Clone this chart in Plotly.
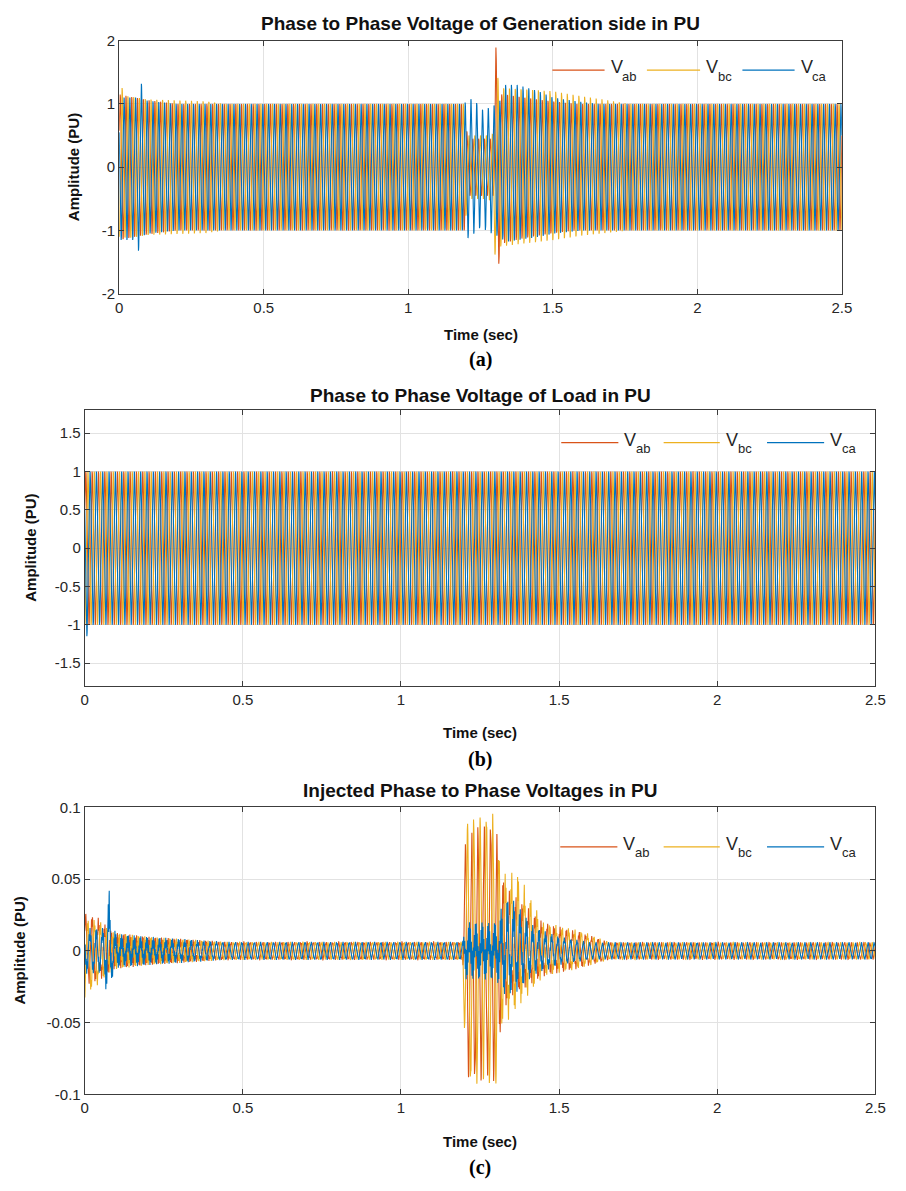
import numpy as np
import plotly.graph_objects as go

# ======================= data =======================
TIME_END = 2.5            # s
SAMPLE_STEP = 0.00025     # s
FREQ = 50                 # Hz, fundamental
RIPPLE_FREQ = 330         # Hz, distortion visible in the injected voltages

SERIES_SYMBOL = ["V", "V", "V"]
SERIES_SUB = ["ab", "bc", "ca"]
SERIES_PHASE_DEG = [30, -90, 150]
SERIES_COLORS = ["#D95319", "#EDB120", "#0072BD"]

X_TICKS = [0, 0.5, 1, 1.5, 2, 2.5]
X_TICK_TEXT = ["0", "0.5", "1", "1.5", "2", "2.5"]
A_Y_TICKS = [-2, -1, 0, 1, 2]
A_Y_TICK_TEXT = ["-2", "-1", "0", "1", "2"]
B_Y_TICKS = [-1.5, -1, -0.5, 0, 0.5, 1, 1.5]
B_Y_TICK_TEXT = ["-1.5", "-1", "-0.5", "0", "0.5", "1", "1.5"]
C_Y_TICKS = [-0.1, -0.05, 0, 0.05, 0.1]
C_Y_TICK_TEXT = ["-0.1", "-0.05", "0", "0.05", "0.1"]

TITLES = ["Phase to Phase Voltage of Generation side in PU",
          "Phase to Phase Voltage of Load in PU",
          "Injected Phase to Phase Voltages in PU"]
PANEL_TAGS = ["(a)", "(b)", "(c)"]
X_LABEL = "Time (sec)"
Y_LABEL = "Amplitude (PU)"

# ---- panel (a): generation side, peak envelopes (knot time s, +peak, -peak in PU)
A_VAB_T  = [0.0, 0.03, 0.10, 0.20, 1.195, 1.205, 1.295, 1.3033, 1.3133, 1.33, 1.40, 1.50, 1.58, 2.5]
A_VAB_UP = [1.15, 1.12, 1.06, 1.00, 1.00, 0.45, 0.45, 1.90, 1.15, 1.15, 1.10, 1.04, 1.00, 1.00]
A_VAB_LO = [1.15, 1.12, 1.06, 1.00, 1.00, 0.45, 0.45, 0.60, 1.53, 1.20, 1.12, 1.04, 1.00, 1.00]

A_VBC_T  = [0.0, 0.01, 0.03, 0.10, 0.30, 0.36, 1.195, 1.205, 1.28, 1.29, 1.30, 1.31, 1.32, 1.50, 1.60, 1.70, 1.76, 2.5]
A_VBC_UP = [1.15, 1.25, 1.12, 1.07, 1.04, 1.00, 1.00, 0.50, 0.50, 0.50, 0.95, 1.41, 1.25, 1.20, 1.12, 1.05, 1.00, 1.00]
A_VBC_LO = [1.10, 1.10, 1.12, 1.07, 1.04, 1.00, 1.00, 0.50, 0.50, 0.95, 1.38, 1.30, 1.25, 1.15, 1.08, 1.03, 1.00, 1.00]

A_VCA_T  = [0.0, 0.0467, 0.0567, 0.0667, 0.0767, 0.0967, 0.20, 1.19, 1.2067, 1.2267, 1.25, 1.29, 1.3167, 1.3367, 1.38, 1.45, 1.50, 1.60, 1.66, 2.5]
A_VCA_UP = [1.10, 1.10, 1.10, 1.10, 1.32, 1.05, 1.00, 1.00, 1.05, 1.10, 0.90, 0.95, 1.05, 1.30, 1.30, 1.20, 1.10, 1.03, 1.00, 1.00]
A_VCA_LO = [1.15, 1.15, 1.15, 1.32, 1.10, 1.05, 1.00, 1.00, 1.12, 1.05, 0.95, 1.05, 1.10, 1.18, 1.15, 1.10, 1.05, 1.00, 1.00, 1.00]

# ---- panel (b): load side
B_VAB_T  = [0.0, 2.5]
B_VAB_UP = [1.00, 1.00]
B_VAB_LO = [1.00, 1.00]
B_VBC_T  = [0.0, 2.5]
B_VBC_UP = [1.00, 1.00]
B_VBC_LO = [1.00, 1.00]
B_VCA_T  = [0.0, 0.0067, 0.0267, 2.5]
B_VCA_UP = [1.00, 1.00, 1.00, 1.00]
B_VCA_LO = [1.15, 1.15, 1.00, 1.00]

# ---- panel (c): injected voltages (fundamental +/- peaks and ripple amplitude)
C_VAB_T   = [0.0, 0.04, 0.09, 0.20, 0.45, 1.195, 1.205, 1.30, 1.315, 1.34, 1.45, 1.57, 1.66, 2.5]
C_VAB_UP  = [0.022, 0.020, 0.008, 0.006, 0.0055, 0.0055, 0.082, 0.085, 0.045, 0.035, 0.016, 0.011, 0.0055, 0.0055]
C_VAB_LO  = [0.020, 0.018, 0.008, 0.006, 0.0055, 0.0055, 0.085, 0.088, 0.045, 0.025, 0.014, 0.010, 0.0055, 0.0055]
C_VAB_RIP = [0.004, 0.004, 0.005, 0.004, 0.0008, 0.0008, 0.004, 0.004, 0.010, 0.008, 0.004, 0.002, 0.0005, 0.0005]

C_VBC_T   = [0.0, 0.04, 0.09, 0.20, 0.45, 1.195, 1.205, 1.30, 1.315, 1.37, 1.45, 1.57, 1.66, 2.5]
C_VBC_UP  = [0.018, 0.018, 0.008, 0.006, 0.0055, 0.0055, 0.088, 0.092, 0.045, 0.045, 0.016, 0.012, 0.0055, 0.0055]
C_VBC_LO  = [0.029, 0.020, 0.008, 0.006, 0.0055, 0.0055, 0.088, 0.090, 0.045, 0.030, 0.014, 0.010, 0.0055, 0.0055]
C_VBC_RIP = [0.004, 0.004, 0.005, 0.004, 0.0008, 0.0008, 0.004, 0.004, 0.010, 0.010, 0.004, 0.002, 0.0005, 0.0005]

C_VCA_T   = [0.0, 0.06, 0.07, 0.078, 0.085, 0.10, 0.20, 0.45, 1.195, 1.205, 1.30, 1.33, 1.36, 1.42, 1.50, 1.60, 2.5]
C_VCA_UP  = [0.012, 0.012, 0.020, 0.030, 0.015, 0.007, 0.006, 0.0055, 0.0055, 0.010, 0.010, 0.025, 0.025, 0.012, 0.008, 0.0055, 0.0055]
C_VCA_LO  = [0.012, 0.012, 0.020, 0.025, 0.015, 0.007, 0.006, 0.0055, 0.0055, 0.010, 0.010, 0.020, 0.020, 0.012, 0.008, 0.0055, 0.0055]
C_VCA_RIP = [0.004, 0.004, 0.012, 0.014, 0.006, 0.005, 0.004, 0.0008, 0.0008, 0.010, 0.010, 0.012, 0.010, 0.005, 0.002, 0.0005, 0.0005]

# ======================= build waveforms =======================
t = np.arange(0.0, TIME_END + SAMPLE_STEP / 2, SAMPLE_STEP)


def waveform(knots, up, lo, phase_deg, rip=None):
    ph = np.deg2rad(phase_deg)
    s = np.sin(2 * np.pi * FREQ * t + ph)
    env_up = np.interp(t, knots, up)
    env_lo = np.interp(t, knots, lo)
    y = np.where(s >= 0, env_up * s, env_lo * s)
    if rip is not None:
        y = y + np.interp(t, knots, rip) * np.sin(2 * np.pi * RIPPLE_FREQ * t + 1.7 * ph)
    return y


PANEL_SERIES = [
    [waveform(A_VAB_T, A_VAB_UP, A_VAB_LO, SERIES_PHASE_DEG[0]),
     waveform(A_VBC_T, A_VBC_UP, A_VBC_LO, SERIES_PHASE_DEG[1]),
     waveform(A_VCA_T, A_VCA_UP, A_VCA_LO, SERIES_PHASE_DEG[2])],
    [waveform(B_VAB_T, B_VAB_UP, B_VAB_LO, SERIES_PHASE_DEG[0]),
     waveform(B_VBC_T, B_VBC_UP, B_VBC_LO, SERIES_PHASE_DEG[1]),
     waveform(B_VCA_T, B_VCA_UP, B_VCA_LO, SERIES_PHASE_DEG[2])],
    [waveform(C_VAB_T, C_VAB_UP, C_VAB_LO, SERIES_PHASE_DEG[0], C_VAB_RIP),
     waveform(C_VBC_T, C_VBC_UP, C_VBC_LO, SERIES_PHASE_DEG[1], C_VBC_RIP),
     waveform(C_VCA_T, C_VCA_UP, C_VCA_LO, SERIES_PHASE_DEG[2], C_VCA_RIP)],
]

# ======================= layout (pixel geometry) =======================
W, H = 906, 1191
FONT = "Liberation Sans, Arial, Helvetica, sans-serif"
SERIF = "Liberation Serif, Times New Roman, serif"
INK = "#262626"
GRID = "#e2e2e2"


def fx(p):
    return p / W


def fy(p):
    return 1 - p / H


PANELS = [
    dict(l=117, r=851, t=32, b=289, yr=[-2, 2], yt=A_Y_TICKS, ytt=A_Y_TICK_TEXT,
         title_y=15, xlab_y=330, tag_y=356, ylab_x=70,
         leg_y=62, leg_lines=[(557, 610), (653, 707), (750, 803)]),
    dict(l=82, r=885, t=407, b=687, yr=[-1.8, 1.8], yt=B_Y_TICKS, ytt=B_Y_TICK_TEXT,
         title_y=392, xlab_y=734, tag_y=761, ylab_x=27,
         leg_y=440, leg_lines=[(566, 624), (670, 727), (775, 833)]),
    dict(l=82, r=885, t=810, b=1101, yr=[-0.1, 0.1], yt=C_Y_TICKS, ytt=C_Y_TICK_TEXT,
         title_y=793, xlab_y=1149, tag_y=1175, ylab_x=16,
         leg_y=850, leg_lines=[(565, 623), (670, 727), (775, 833)]),
]

fig = go.Figure()
annotations = []
shapes = []
layout_axes = {}

for i, (P, series) in enumerate(zip(PANELS, PANEL_SERIES)):
    k = "" if i == 0 else str(i + 1)
    for sym, sub, color, y in zip(SERIES_SYMBOL, SERIES_SUB, SERIES_COLORS, series):
        fig.add_trace(go.Scatter(
            x=t, y=y, mode="lines", name=sym + sub,
            line=dict(color=color, width=1.1),
            xaxis="x" + k, yaxis="y" + k,
            showlegend=False, hoverinfo="skip"))

    axis_common = dict(
        showline=True, linecolor="#3c3c3c", linewidth=1, mirror="ticks",
        ticks="inside", ticklen=5, tickcolor="#3c3c3c", tickwidth=1,
        showgrid=True, gridcolor=GRID, gridwidth=1, zeroline=False,
        tickfont=dict(family=FONT, size=15, color=INK),
    )
    layout_axes["xaxis" + k] = dict(
        axis_common, domain=[fx(P["l"]), fx(P["r"])], range=[0, TIME_END],
        tickvals=X_TICKS, ticktext=X_TICK_TEXT, anchor="y" + k)
    layout_axes["yaxis" + k] = dict(
        axis_common, domain=[fy(P["b"]), fy(P["t"])], range=P["yr"],
        tickvals=P["yt"], ticktext=P["ytt"], anchor="x" + k)

    cx = fx((P["l"] + P["r"]) / 2)
    annotations += [
        dict(text="<b>%s</b>" % TITLES[i], x=cx, y=fy(P["title_y"]), xref="paper", yref="paper",
             showarrow=False, xanchor="center", yanchor="middle",
             font=dict(family=FONT, size=19, color="#111111")),
        dict(text="<b>%s</b>" % X_LABEL, x=cx, y=fy(P["xlab_y"]), xref="paper", yref="paper",
             showarrow=False, xanchor="center", yanchor="middle",
             font=dict(family=FONT, size=15, color="#111111")),
        dict(text="<b>%s</b>" % PANEL_TAGS[i], x=cx, y=fy(P["tag_y"]), xref="paper", yref="paper",
             showarrow=False, xanchor="center", yanchor="middle",
             font=dict(family=SERIF, size=20, color="#000000")),
        dict(text="<b>%s</b>" % Y_LABEL, x=fx(P["ylab_x"]), y=fy((P["t"] + P["b"]) / 2),
             xref="paper", yref="paper", showarrow=False, textangle=-90,
             xanchor="center", yanchor="middle",
             font=dict(family=FONT, size=15, color="#111111")),
    ]
    # legend (box off, as in the original): line sample, "V" and its subscript
    for (x0, x1), sym, sub, color in zip(P["leg_lines"], SERIES_SYMBOL, SERIES_SUB, SERIES_COLORS):
        shapes.append(dict(type="line", xref="paper", yref="paper",
                           x0=fx(x0), x1=fx(x1), y0=fy(P["leg_y"]), y1=fy(P["leg_y"]),
                           line=dict(color=color, width=1.3)))
        annotations.append(dict(text=sym, x=fx(x1 + 4), y=fy(P["leg_y"] - 3),
                                xref="paper", yref="paper", showarrow=False,
                                xanchor="left", yanchor="middle",
                                font=dict(family=FONT, size=18, color=INK)))
        annotations.append(dict(text=sub, x=fx(x1 + 16), y=fy(P["leg_y"] + 6),
                                xref="paper", yref="paper", showarrow=False,
                                xanchor="left", yanchor="middle",
                                font=dict(family=FONT, size=13, color=INK)))

fig.update_layout(
    width=W, height=H, margin=dict(l=0, r=0, t=0, b=0),
    paper_bgcolor="white", plot_bgcolor="white",
    showlegend=False, annotations=annotations, shapes=shapes,
    **layout_axes)

fig.write_html("out.html")
